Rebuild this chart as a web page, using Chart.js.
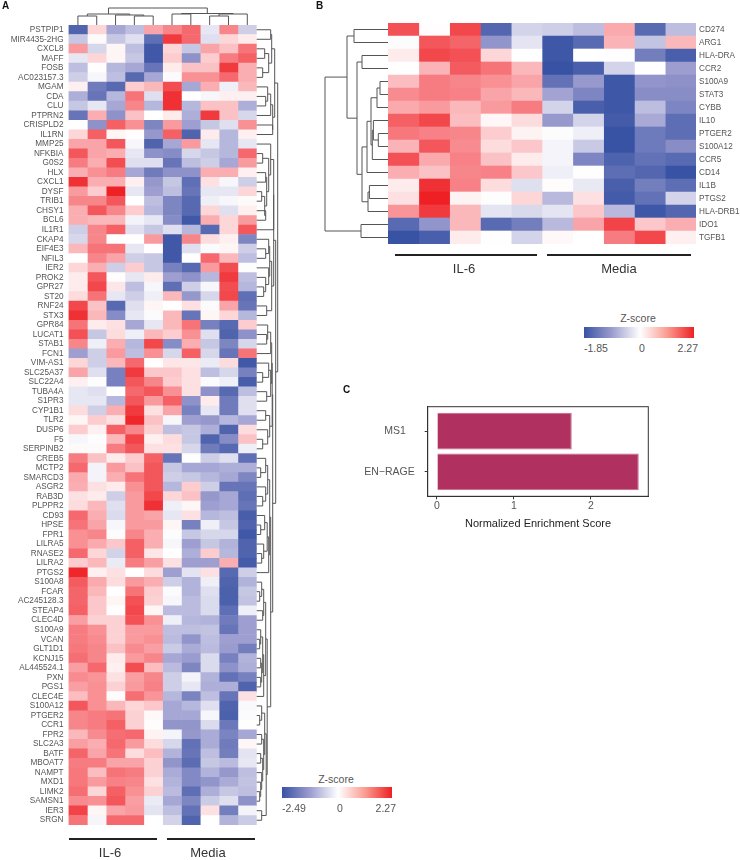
<!DOCTYPE html>
<html>
<head>
<meta charset="utf-8">
<title>IL-6 heatmaps</title>
<script src="https://cdn.jsdelivr.net/npm/chart.js@4"></script>
<style>
  body { margin: 0; background: #fff; font-family: "Liberation Sans", sans-serif; color: #555; }
  canvas { position: absolute; }
  .t { position: absolute; white-space: nowrap; line-height: 1; }
  .letter { font-size: 10px; font-weight: bold; color: #111; }
  .group { font-size: 13px; color: #333; transform: translateX(-50%); }
  .rule { position: absolute; height: 2px; background: #222; }
  .ramp { position: absolute; background: linear-gradient(to right, #3953a4, #9a9bce 25%, #fff 51%, #fa9a8f 76%, #ee2024); }
  .lg { font-size: 10.5px; }
</style>
</head>
<body>
<canvas id="heatA" width="290" height="860" style="left:0;top:0"></canvas>
<canvas id="heatB" width="440" height="280" style="left:300px;top:0"></canvas>
<canvas id="nes" width="400" height="160" style="left:340px;top:380px"></canvas>

<div class="t letter" style="left:2px;top:1px">A</div>
<div class="t letter" style="left:316px;top:1px">B</div>
<div class="t letter" style="left:343px;top:385px">C</div>

<div class="rule" style="left:69px;top:838px;width:88px"></div>
<div class="rule" style="left:167px;top:838px;width:88px"></div>
<div class="t group" style="left:110px;top:846px">IL-6</div>
<div class="t group" style="left:208px;top:846px">Media</div>
<div class="rule" style="left:395px;top:254px;width:142px"></div>
<div class="rule" style="left:547px;top:254px;width:144px"></div>
<div class="t group" style="left:464px;top:262px">IL-6</div>
<div class="t group" style="left:619px;top:262px">Media</div>

<div class="t lg" style="left:336px;top:774px;transform:translateX(-50%)">Z-score</div>
<div class="ramp" style="left:282px;top:787px;width:110px;height:11px"></div>
<div class="t lg" style="left:282px;top:803px">-2.49</div>
<div class="t lg" style="left:340px;top:803px;transform:translateX(-50%)">0</div>
<div class="t lg" style="left:396px;top:803px;transform:translateX(-100%)">2.27</div>

<div class="t lg" style="left:638px;top:313px;transform:translateX(-50%)">Z-score</div>
<div class="ramp" style="left:584px;top:327px;width:110px;height:11px"></div>
<div class="t lg" style="left:584px;top:343px">-1.85</div>
<div class="t lg" style="left:642px;top:343px;transform:translateX(-50%)">0</div>
<div class="t lg" style="left:698px;top:343px;transform:translateX(-100%)">2.27</div>

<script>
// panel A
const genesA = ["PSTPIP1","MIR4435-2HG","CXCL8","MAFF","FOSB","AC023157.3","MGAM","CDA","CLU","PTPRN2","CRISPLD2","IL1RN","MMP25","NFKBIA","G0S2","HLX","CXCL1","DYSF","TRIB1","CHSY1","BCL6","IL1R1","CKAP4","EIF4E3","NFIL3","IER2","PROK2","GPR27","ST20","RNF24","STX3","GPR84","LUCAT1","STAB1","FCN1","VIM-AS1","SLC25A37","SLC22A4","TUBA4A","S1PR3","CYP1B1","TLR2","DUSP6","F5","SERPINB2","CREB5","MCTP2","SMARCD3","ASGR2","RAB3D","PLPPR2","CD93","HPSE","FPR1","LILRA5","RNASE2","LILRA2","PTGS2","S100A8","FCAR","AC245128.3","STEAP4","CLEC4D","S100A9","VCAN","GLT1D1","KCNJ15","AL445524.1","PXN","PGS1","CLEC4E","S100A12","PTGER2","CCR1","FPR2","SLC2A3","BATF","MBOAT7","NAMPT","MXD1","LIMK2","SAMSN1","IER3","SRGN"];
const zA = [
  [-2.2,.4,-1.1,-.8,.9,1.2,1.5,-.3,1.2,-.6],
  [-.7,.05,-.7,-.4,-2,2,1.5,-.4,.4,.2],
  [1,-.5,.1,-.8,-2.4,.4,-.7,.9,.6,1.4],
  [-.3,.4,.1,-.7,-2.4,.5,-1.4,.5,1.3,1.6],
  [-.8,.02,-.9,-1.1,-1.9,.2,.6,.6,2,.8],
  [-.6,-.1,-.8,-2.1,-1.1,-.05,1.1,1.1,1.5,.8],
  [.15,-1.8,-2.1,.5,.7,1.8,-1.1,.8,-.2,.7],
  [-1,-1.9,-.9,1.4,-.4,2.1,0,-.1,.15,.15],
  [-.7,-.3,-1.1,1.2,-.9,2.1,-.9,.6,.6,-1],
  [-1.9,.8,-1.4,.6,0,.2,-1,2,.6,-.5],
  [0,-1.4,1.6,1.1,-1.6,1,-1.2,-.7,-.4,1.1],
  [.4,1.6,.1,.02,-1.3,1.6,-2.2,.2,-.9,.15],
  [.9,.9,1.7,-.1,-2.2,-1.1,1,-.3,-.9,-.3],
  [1.7,.9,.8,-.3,-1.4,-1.5,-.5,-.7,-.9,1.5],
  [1.3,.8,1.8,-.4,-.4,-1.9,-.8,-.6,-1.1,1],
  [.8,1.1,1.3,-1.1,-1.8,-1.4,-1.4,.8,.8,.15],
  [2.1,.8,.8,.15,-1.3,-.7,-2,.3,-.1,-.6],
  [1,.5,2.25,-.3,-1.2,-.8,-1.9,-.3,-.3,.4],
  [1.2,1.2,1.7,0,-.8,-1.6,-2.1,-.2,-.1,.05],
  [.8,1.7,1.2,.5,-.9,-1.6,-2.1,.4,-.4,.15],
  [.8,.7,.7,-.15,-.3,-1.5,-2.4,.8,.4,1],
  [-.6,1.2,1.6,-.4,-.7,-.4,-.9,-2.1,.4,1.7],
  [-.5,1.2,0,.02,1,-2.4,1.2,.35,.15,-1.6],
  [.7,1.4,1.4,-.3,.02,-2.4,-.4,-.05,.1,-.6],
  [0,1.2,.9,-.6,-.7,-2.4,0,1.5,.7,-.8],
  [.4,.8,-.6,.5,-.7,-1.7,-2.1,1,1.8,-.02],
  [.2,1.7,.03,-.3,.2,-1.2,-1.4,-.9,2,-.8],
  [.2,1.85,.25,-.8,-.1,-2,-.6,-.1,1.8,-.9],
  [.35,1.4,-.3,-.6,-.2,.7,-1.3,-.5,1.85,-2],
  [1.85,.6,-2.1,-.4,.1,0,.3,-.05,.9,-1.9],
  [2.1,.7,-1.5,-.3,-.05,.7,-1.9,.1,.4,-.9],
  [1.4,.2,.3,-1.1,-.3,.7,1.4,-1.7,-2.1,.5],
  [1.75,-.7,.35,-.2,.7,.5,1.1,-.4,-2.2,-1.4],
  [1.2,-.2,.8,-.9,1.85,-1.5,.8,-.7,-1.6,-.5],
  [-1.2,-.6,1,-.8,1.1,-.5,1.6,-.5,-1.9,1.4],
  [.4,-.6,.7,1.5,.02,.25,.25,-.25,.35,-2.4],
  [.9,-.4,-1.7,2,.55,.55,.3,-.8,-.5,-1.7],
  [.15,-.02,-1.7,1.7,1.2,.5,.3,-.05,-.2,-2.3],
  [-.3,-.4,0,1.5,1.7,1.1,.3,-1.4,-2.1,-.8],
  [-.3,-.3,-.9,1.7,1,1.6,-1.4,.2,-1.8,-.4],
  [.35,-.6,.8,2,.3,.9,-1.7,-.3,-1.8,-.4],
  [.1,.5,.3,2.2,.6,-.1,-1.2,-1.3,-.9,-1.1],
  [.5,.15,1.6,1.2,.45,-.8,-.7,-1,-2.2,.35],
  [-.1,-.03,.7,1.9,.15,.35,-.7,-2.2,-1.5,.6],
  [.05,.05,1.3,1.7,.3,.3,-.5,-1.8,-2.1,-.2],
  [1.3,.6,.2,.5,1.6,-1.9,-.03,-.6,-.4,-2],
  [1.5,-.15,1,.6,1.7,-.7,-1.1,-1.1,-1,-1],
  [.85,-.15,.8,1.4,1.7,-.6,-.7,-.9,-1.1,-1.6],
  [.8,.3,.2,1.1,1.7,-.9,.5,-.6,-1.9,-1.9],
  [.3,.2,-.6,1,1.85,.4,.6,-1.3,-1.1,-2],
  [.35,.7,-.4,1,2.1,-.2,.1,-1.2,-1.1,-1.9],
  [1.5,.8,-.45,1,.9,-.3,.3,-.9,-.8,-2.3],
  [1.4,.9,-.1,1,1,.1,-1.7,-.2,-.7,-2.2],
  [1.1,1.2,-.04,1.2,.8,-.04,-.7,-.5,-.5,-2.4],
  [1.1,.85,.55,1.6,.8,-.1,-1.2,-.7,-.95,-2.2],
  [1.5,.4,-.55,1.6,.25,0,-1,.5,-.9,-2.2],
  [.5,.7,-.25,1.3,.95,.3,-1.2,-1.2,.8,-2.35],
  [2.2,.15,.3,0,.35,-1.2,-.35,.3,-2.1,-.6],
  [1.65,.85,.35,1,.8,-.6,-.95,-.2,-2.2,-.95],
  [1.55,.7,0,1.4,.5,-.05,-.95,-.4,-2.25,-.7],
  [1.55,.55,.1,1.75,.45,-.1,-.85,-.45,-2.25,-.75],
  [1.6,.55,.02,1.85,.1,-.85,-.85,-.45,-2,-.2],
  [.95,.45,.45,1.75,1.1,-.2,-.9,-.95,-1.8,-1.2],
  [1.3,1.1,.45,1,1,-.8,-.8,-.75,-1.9,-1.2],
  [1.3,1.15,.45,1,1.1,-.85,-1.35,-.8,-1.2,-1.2],
  [1.35,1.2,.6,1.15,.95,-.65,-1.05,-.85,-1.25,-1.75],
  [1.45,1.2,.2,1,1.2,-1.1,-1.25,-.45,-1.7,-.95],
  [.95,1.5,.15,1.8,.65,-.85,-1.6,-.45,-1.4,-1],
  [1.15,1.05,.3,.95,1.2,-.6,-.15,-.95,-1.95,-1.7],
  [.95,1.1,.45,1,1.25,-.6,-.3,-1,-1,-2.2],
  [.65,1.1,.03,1.45,1.05,-.9,-1.65,-.8,-1.9,.3],
  [1.7,1.1,.7,.4,.55,-1.1,-.9,-.4,-2.2,-.07],
  [1.2,1.3,1.4,.45,.07,-1.1,-1.1,-.1,-2.25,-.05],
  [1.2,1.3,1.6,.45,.03,-1.35,-1.35,-.45,-1.85,-.01],
  [.7,1.15,1.45,1.5,.12,-.13,-1.3,-1.05,-1.65,-1.1],
  [.95,.8,1.5,1,.35,-.5,-1.95,-1.05,-1.8,.08],
  [1.55,.9,1.4,.35,.65,-.95,-1.9,-.8,-1.75,-.35],
  [1.3,1.3,.9,.9,.45,-1.35,-2.05,-.7,-.85,-.3],
  [1.35,.65,1.4,1.3,.45,-1.05,-1.55,-.95,-1.3,-.8],
  [1.35,1,1.25,1.2,.3,-.95,-1.55,-1.35,-1.05,-.75],
  [1.45,.4,1.6,1.1,.45,-.85,-2,-1,-.7,-.8],
  [1.15,1.1,1.7,.95,-.25,-1.1,-1.6,-.65,-.4,-1.4],
  [1.9,.1,.9,1,-.35,-.8,-1.95,.3,-1.75,-.15],
  [1.4,-.12,1.5,1.5,0,-.55,-2.2,0,-.95,-.65]
];
// dendrograms: [height, child, child], a child is a node or a row/column index
const colTreeA = [17,[11,[9,0,1],[10,2,[9,3,4]]],[11.5,[11,5,6],[11,[9,7,8],9]]];
const rowTreeA = [21,
  [18,[15,[14,0,1],[12,[8,2,3],[6,4,5]]],[16,[14,[11,6,[9,7,8]],9],[16,10,11]]],
  [19,
    [17,
      [17,[14,12,[12,[6,13,14],[10,[9,15,16],[8,[5,17,18],[9,19,20]]]]],21],
      [15,[13,[12,22,[9,23,24]],[12,25,[9,26,[7,27,28]]]],[10,29,30]]],
    [16,
      [15.5,[15,[14,[11,31,[10,32,33]],34],[14,[12,35,[6,36,37]],[10,38,39]]],[13,[9,40,41],[11,42,[6,43,44]]]],
      [14,
        [13,[11,[9,45,[4,46,47]],[9,48,[6,49,50]]],[12,[10.5,[8,51,[4,52,53]],[7,54,[5,55,56]]],57]],
        [10.5,
          [9,[7,[5,58,[3,59,60]],[6,61,62]],[7,[6,[4,63,[3,64,65]],[5,[4,66,67],[4,68,69]]],70]],
          [9.5,[8,[5,71,[3,72,73]],[7,[5,74,75],[6,[4,76,77],[5,78,[4,79,[3,80,81]]]]]],[5,82,83]]]]]]];

// panel B
const genesB = ["CD274","ARG1","HLA-DRA","CCR2","S100A9","STAT3","CYBB","IL10","PTGER2","S100A12","CCR5","CD14","IL1B","PTGS2","HLA-DRB1","IDO1","TGFB1"];
const zB = [
  [1.75,.02,1.85,-1.6,-.4,-.45,-.6,.85,-1.55,-.6],
  [-.03,1.7,1.55,-1,-.25,-1.8,-1.55,.75,-.55,.7],
  [.2,1.85,1.75,.4,0,-1.8,0,-.01,-1.3,-1.7],
  [0,.75,1.65,1.4,.7,-1.85,-1.7,-.4,0,-.9],
  [.65,1.3,1.2,1.1,.9,-1.45,-.95,-1.8,-1,-1.05],
  [1.15,1.3,1.25,.9,.7,-.85,-1.2,-1.8,-1.1,-1.1],
  [.85,1,.7,1,1.3,-.4,-1.7,-1.8,-.6,-1.2],
  [1.6,1.85,.65,.08,.35,-.95,-.4,-1.75,-.8,-1.5],
  [1.35,1.25,1.2,.5,.12,-.03,-.15,-1.85,-1.35,-1.5],
  [.75,1.7,1.15,.35,.55,-.1,-.5,-1.85,-1.35,-1.1],
  [1.75,.85,1.25,.6,.2,-.1,-1.2,-1.65,-1.45,-1.55],
  [.8,.6,1.2,1.25,.55,-.15,-.01,-1.5,-1.6,-1.85],
  [.2,2.1,1.25,.35,-.3,.03,-.2,-1.7,-1.3,-1.5],
  [.3,2.27,.12,-.02,.4,-.65,.3,-1.75,-1.45,-.4],
  [1.05,2,.7,-.25,-.35,-.25,.55,-.65,-1.8,-1.6],
  [-1.55,-1,.7,-1.55,-1.3,-.65,.9,1.9,.55,.8],
  [-1.85,-1.7,.2,-.01,-.4,.07,0,1.3,1.85,.15]
];
const rowTreeB = [63,
  [41,[34,0,1],
    [31,[26,2,3],
      [26,
        [21,[17,[11,[8,4,5],6],[15.7,[14.6,7,[9.7,8,9]],10]],11],
        [20,[18.6,12,13],14]]]],
  [27,15,16]];

// panel C
const pathways = ["EN\u2212RAGE", "MS1   "];
const pathwayPos = [1, 2];
const enrichment = [2.62, 1.75];

const RED = [[255,255,255],[248,140,145],[238,32,36]];
const BLUE = [[255,255,255],[154,155,206],[57,83,164]];

function cellColor(z, zMin, zMax) {
  const ramp = z < 0 ? BLUE : RED;
  const t = Math.min(1, z < 0 ? z / zMin : z / zMax) * 2;
  const i = Math.min(1, Math.floor(t));
  const f = t - i;
  const c = [0,1,2].map(k => Math.round(ramp[i][k] + (ramp[i+1][k] - ramp[i][k]) * f));
  return `rgb(${c[0]},${c[1]},${c[2]})`;
}

// draws a tree and gives back where its top sits
function drawTree(ctx, node, pos, pt) {
  if (typeof node === "number") return { p: pos(node), h: 0 };
  const kids = node.slice(1).map(n => drawTree(ctx, n, pos, pt));
  const h = node[0];
  ctx.beginPath();
  kids.forEach(k => {
    ctx.moveTo(...pt(k.p, k.h));
    ctx.lineTo(...pt(k.p, h));
  });
  ctx.moveTo(...pt(kids[0].p, h));
  ctx.lineTo(...pt(kids[kids.length - 1].p, h));
  ctx.stroke();
  return { p: (kids[0].p + kids[kids.length - 1].p) / 2, h: h };
}

const treePlugin = (rowTree, side, colTree) => ({
  id: "trees",
  afterDraw(chart) {
    const { ctx, chartArea: a, scales: { x, y } } = chart;
    ctx.save();
    ctx.strokeStyle = "#555";
    ctx.lineWidth = 1;
    const edge = side === "right" ? a.right : a.left;
    const dir = side === "right" ? 1 : -1;
    drawTree(ctx, rowTree, i => y.getPixelForValue(i), (p, h) => [edge + dir * h, p]);
    if (colTree) drawTree(ctx, colTree, i => x.getPixelForValue(i + 0.5), (p, h) => [p, a.top - h]);
    ctx.restore();
  }
});

function heatmap(id, genes, z, zMin, zMax, yPos, yWidth, tickPad, padding, plugin) {
  new Chart(document.getElementById(id), {
    type: "bar",
    data: {
      labels: genes,
      datasets: z[0].map((_, col) => ({
        data: genes.map(() => 1),
        backgroundColor: z.map(row => cellColor(row[col], zMin, zMax)),
        borderWidth: 0,
        barPercentage: 1,
        categoryPercentage: 1
      }))
    },
    options: {
      indexAxis: "y",
      responsive: false,
      animation: false,
      layout: { padding },
      plugins: { legend: { display: false }, tooltip: { enabled: false } },
      scales: {
        x: { stacked: true, min: 0, max: 10, display: false },
        y: {
          stacked: true,
          position: yPos,
          grid: { display: false, drawTicks: false },
          border: { display: false },
          ticks: { autoSkip: false, padding: tickPad, color: "#555", font: { family: "Liberation Sans", size: 8.2 } },
          afterFit(s) { s.width = yWidth; }
        }
      }
    },
    plugins: [plugin]
  });
}

heatmap("heatA", genesA, zA, -2.49, 2.27, "left", 68.5, 5,
  { top: 25, bottom: 35, right: 33.3 }, treePlugin(rowTreeA, "right", colTreeA));
heatmap("heatB", genesB, zB, -1.85, 2.27, "right", 44, 3,
  { top: 23, bottom: 36, left: 88 }, treePlugin(rowTreeB, "left"));

new Chart(document.getElementById("nes"), {
  type: "bar",
  data: {
    datasets: [{
      data: enrichment.map((v, i) => ({ x: v, y: pathwayPos[i] })),
      backgroundColor: "#b03060",
      borderColor: "#c4658a",
      borderWidth: 1,
      barPercentage: 1,
      categoryPercentage: 0.9
    }]
  },
  options: {
    indexAxis: "y",
    responsive: false,
    animation: false,
    layout: { padding: { top: 26.7, right: 91.7, bottom: 9 } },
    plugins: { legend: { display: false }, tooltip: { enabled: false } },
    scales: {
      x: {
        type: "linear",
        min: -0.12,
        max: 2.744,
        grid: { drawOnChartArea: false, tickLength: 3, tickColor: "#333" },
        border: { color: "#333" },
        ticks: { stepSize: 1, includeBounds: false, color: "#555", padding: 1, font: { family: "Liberation Sans", size: 10.5 } },
        title: { display: true, text: "Normalized Enrichment Score", color: "#222", padding: 0, font: { family: "Liberation Sans", size: 11 } },
        afterFit(s) { s.height = 34.7; }
      },
      y: {
        type: "linear",
        offset: false,
        min: 0.4,
        max: 2.6,
        grid: { offset: false, drawOnChartArea: false, tickLength: 3, tickColor: "#333" },
        border: { color: "#333" },
        ticks: {
          stepSize: 1,
          includeBounds: false,
          padding: 10,
          color: "#555",
          font: { family: "Liberation Sans", size: 10.5 },
          callback: v => pathways[pathwayPos.indexOf(v)] || ""
        },
        afterFit(s) { s.width = 87.7; }
      }
    }
  },
  plugins: [{
    id: "frame",
    afterDraw(chart) {
      const { ctx, chartArea: a } = chart;
      ctx.save();
      ctx.strokeStyle = "#333";
      ctx.lineWidth = 1;
      ctx.strokeRect(a.left, a.top, a.right - a.left, a.bottom - a.top);
      ctx.restore();
    }
  }]
});
</script>
</body>
</html>
